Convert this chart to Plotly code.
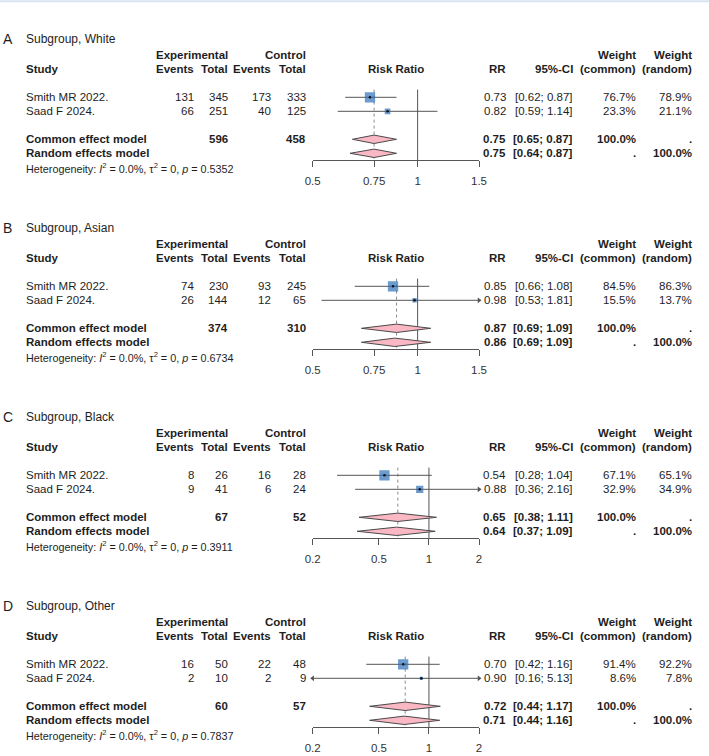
import math
import plotly.graph_objects as go

# ---------------- data ----------------
panel_letters = ["A", "B", "C", "D"]
subgroups = ["Subgroup, White", "Subgroup, Asian", "Subgroup, Black", "Subgroup, Other"]
studies = ["Smith MR 2022.", "Saad F 2024."]

exp_events = [[131, 66], [74, 26], [8, 9], [16, 2]]
exp_total = [[345, 251], [230, 144], [26, 41], [50, 10]]
ctl_events = [[173, 40], [93, 12], [16, 6], [22, 2]]
ctl_total = [[333, 125], [245, 65], [28, 24], [48, 9]]

study_rr = [[0.73, 0.82], [0.85, 0.98], [0.54, 0.88], [0.70, 0.90]]
study_low = [[0.62, 0.59], [0.66, 0.53], [0.28, 0.36], [0.42, 0.16]]
study_high = [[0.87, 1.14], [1.08, 1.81], [1.04, 2.16], [1.16, 5.13]]
weight_common = [[76.7, 23.3], [84.5, 15.5], [67.1, 32.9], [91.4, 8.6]]
weight_random = [[78.9, 21.1], [86.3, 13.7], [65.1, 34.9], [92.2, 7.8]]

exp_sum = [596, 374, 67, 60]
ctl_sum = [458, 310, 52, 57]
common_rr = [0.75, 0.87, 0.65, 0.72]
common_low = [0.65, 0.69, 0.38, 0.44]
common_high = [0.87, 1.09, 1.11, 1.17]
random_rr = [0.75, 0.86, 0.64, 0.71]
random_low = [0.64, 0.69, 0.37, 0.44]
random_high = [0.87, 1.09, 1.09, 1.16]

het_i2 = ["0.0%", "0.0%", "0.0%", "0.0%"]
het_tau2 = ["0", "0", "0", "0"]
het_p = ["0.5352", "0.6734", "0.3911", "0.7837"]

tick_vals = [[0.5, 0.75, 1, 1.5], [0.5, 0.75, 1, 1.5], [0.2, 0.5, 1, 2], [0.2, 0.5, 1, 2]]
tick_text = [["0.5", "0.75", "1", "1.5"], ["0.5", "0.75", "1", "1.5"],
             ["0.2", "0.5", "1", "2"], ["0.2", "0.5", "1", "2"]]

# ---------------- layout constants ----------------
W, H = 709, 756
STEP = 189
ROW_H = 14.0
ROW0 = 97.3
STUDY_ROWS = [0, 1]
COMMON_ROW, RANDOM_ROW = 3, 4
Y_TOP, Y_BOT = -0.6, 4.5
PLOT_L, PLOT_R = 312.7, 479.0
FONT = "Liberation Sans, Arial, Helvetica, sans-serif"
TXT = "#1e1e1e"
LINE = "#555555"
SQUARE = "#2f70b8"
DIAMOND = "#f9b8c4"
MAX_SQ = 10.3

fig = go.Figure()
annotations = []


def txt(xp, yp, s, anchor="left", size=11.5, bold=False, color=TXT):
    if bold:
        s = "<b>" + s + "</b>"
    annotations.append(dict(xref="paper", yref="paper", x=xp / W, y=1 - yp / H,
                            text=s, xanchor=anchor, yanchor="middle", showarrow=False,
                            borderpad=0, font=dict(family=FONT, size=size, color=color)))


COL_EE, COL_ET, COL_CE, COL_CT = 194.8, 228.8, 272.2, 306.5
COL_RR, COL_CI, COL_WC, COL_WR = 507.2, 573.8, 636.5, 693.2

for p in range(4):
    o = STEP * p
    ax = "" if p == 0 else str(p + 1)
    xa, ya = "x" + ax, "y" + ax
    row_px = lambda r: ROW0 + o + ROW_H * r

    # ---- texts ----
    txt(1.5, 39 + o, panel_letters[p], size=14)
    txt(25, 39 + o, subgroups[p], size=12)
    h1, h2 = 55.3 + o, 69.3 + o
    txt(COL_ET, h1, "Experimental", "right", bold=True)
    txt(COL_CT, h1, "Control", "right", bold=True)
    txt(COL_WC, h1, "Weight", "right", bold=True)
    txt(COL_WR, h1, "Weight", "right", bold=True)
    txt(25, h2, "Study", bold=True)
    txt(COL_EE, h2, "Events", "right", bold=True)
    txt(COL_ET, h2, "Total", "right", bold=True)
    txt(COL_CE, h2, "Events", "right", bold=True)
    txt(COL_CT, h2, "Total", "right", bold=True)
    txt((PLOT_L + PLOT_R) / 2, h2, "Risk Ratio", "center", bold=True)
    txt(COL_RR, h2, "RR", "right", bold=True)
    txt(COL_CI, h2, "95%-CI", "right", bold=True)
    txt(COL_WC, h2, "(common)", "right", bold=True)
    txt(COL_WR, h2, "(random)", "right", bold=True)

    for i, r in enumerate(STUDY_ROWS):
        y = row_px(r)
        txt(25, y, studies[i])
        txt(COL_EE, y, str(exp_events[p][i]), "right")
        txt(COL_ET, y, str(exp_total[p][i]), "right")
        txt(COL_CE, y, str(ctl_events[p][i]), "right")
        txt(COL_CT, y, str(ctl_total[p][i]), "right")
        txt(COL_RR, y, f"{study_rr[p][i]:.2f}", "right")
        txt(COL_CI, y, f"[{study_low[p][i]:.2f}; {study_high[p][i]:.2f}]", "right")
        txt(COL_WC, y, f"{weight_common[p][i]:.1f}%", "right")
        txt(COL_WR, y, f"{weight_random[p][i]:.1f}%", "right")

    y = row_px(COMMON_ROW)
    txt(25, y, "Common effect model", bold=True)
    txt(COL_ET, y, str(exp_sum[p]), "right", bold=True)
    txt(COL_CT, y, str(ctl_sum[p]), "right", bold=True)
    txt(COL_RR, y, f"{common_rr[p]:.2f}", "right", bold=True)
    txt(COL_CI, y, f"[{common_low[p]:.2f}; {common_high[p]:.2f}]", "right", bold=True)
    txt(COL_WC, y, "100.0%", "right", bold=True)
    txt(COL_WR, y, ".", "right", bold=True)

    y = row_px(RANDOM_ROW)
    txt(25, y, "Random effects model", bold=True)
    txt(COL_RR, y, f"{random_rr[p]:.2f}", "right", bold=True)
    txt(COL_CI, y, f"[{random_low[p]:.2f}; {random_high[p]:.2f}]", "right", bold=True)
    txt(COL_WC, y, ".", "right", bold=True)
    txt(COL_WR, y, "100.0%", "right", bold=True)

    txt(25, 167.7 + o,
        f"Heterogeneity: <i>I</i><sup>2</sup> = {het_i2[p]}, τ<sup>2</sup> = {het_tau2[p]}, "
        f"<i>p</i> = {het_p[p]}", size=10.8)

    # ---- marks ----
    xmin, xmax = min(tick_vals[p]), max(tick_vals[p])
    fig.add_trace(go.Scatter(x=[common_rr[p], common_rr[p]], y=[Y_TOP + 0.05, Y_BOT],
                             mode="lines", line=dict(color="#8a8a8a", width=1, dash="dot"),
                             xaxis=xa, yaxis=ya, hoverinfo="skip"))
    fig.add_trace(go.Scatter(x=[1, 1], y=[Y_TOP + 0.05, Y_BOT], mode="lines",
                             line=dict(color=LINE, width=1), xaxis=xa, yaxis=ya, hoverinfo="skip"))
    for i, r in enumerate(STUDY_ROWS):
        fig.add_trace(go.Scatter(x=[study_low[p][i], study_high[p][i]], y=[r, r], mode="lines",
                                 line=dict(color=LINE, width=1), xaxis=xa, yaxis=ya,
                                 hoverinfo="skip"))
        if study_high[p][i] > xmax:
            fig.add_trace(go.Scatter(x=[xmax], y=[r], mode="markers", cliponaxis=False,
                                     marker=dict(symbol="triangle-right", size=5, color=LINE),
                                     xaxis=xa, yaxis=ya, hoverinfo="skip"))
        if study_low[p][i] < xmin:
            fig.add_trace(go.Scatter(x=[xmin], y=[r], mode="markers", cliponaxis=False,
                                     marker=dict(symbol="triangle-left", size=5, color=LINE),
                                     xaxis=xa, yaxis=ya, hoverinfo="skip"))
    wmax = max(weight_common[p])
    sizes = [MAX_SQ * math.sqrt(w / wmax) for w in weight_common[p]]
    fig.add_trace(go.Scatter(x=study_rr[p], y=STUDY_ROWS, mode="markers",
                             marker=dict(symbol="square", size=sizes, color=SQUARE,
                                         line=dict(width=0)),
                             xaxis=xa, yaxis=ya, hoverinfo="skip"))
    fig.add_trace(go.Scatter(x=study_rr[p], y=STUDY_ROWS, mode="markers",
                             marker=dict(symbol="circle", size=2.5, color="#111111"),
                             xaxis=xa, yaxis=ya, hoverinfo="skip"))
    dh = 0.3
    for est, lo, hi, r in [(common_rr[p], common_low[p], common_high[p], COMMON_ROW),
                           (random_rr[p], random_low[p], random_high[p], RANDOM_ROW)]:
        fig.add_trace(go.Scatter(x=[lo, est, hi, est, lo], y=[r, r - dh, r, r + dh, r],
                                 mode="lines", fill="toself", fillcolor=DIAMOND,
                                 line=dict(color="#4a4a4a", width=1),
                                 xaxis=xa, yaxis=ya, hoverinfo="skip"))

    top_px = ROW0 + o + ROW_H * Y_TOP
    bot_px = ROW0 + o + ROW_H * Y_BOT
    fig.layout["xaxis" + ax] = dict(
        domain=[PLOT_L / W, PLOT_R / W], anchor=ya, type="log",
        range=[math.log10(xmin), math.log10(xmax)], automargin=False,
        tickvals=tick_vals[p], ticktext=tick_text[p], ticks="outside", ticklen=6,
        tickcolor=LINE, tickwidth=1, showline=True, linecolor=LINE, linewidth=1,
        showgrid=False, zeroline=False, ticklabelstandoff=4,
        tickfont=dict(family=FONT, size=11.5, color="#333333"), fixedrange=True)
    fig.layout["yaxis" + ax] = dict(
        domain=[1 - bot_px / H, 1 - top_px / H], anchor=xa, range=[Y_BOT, Y_TOP],
        visible=False, automargin=False, fixedrange=True)

fig.update_layout(
    template="none",
    width=W, height=H, margin=dict(l=0, r=0, t=0, b=0, pad=0, autoexpand=False),
    paper_bgcolor="white", plot_bgcolor="white", showlegend=False,
    annotations=annotations,
    shapes=[dict(type="line", xref="paper", yref="paper", x0=0, x1=1,
                 y0=1 - 1.2 / H, y1=1 - 1.2 / H, line=dict(color="#d6e4f2", width=2))],
)

fig.write_html("out.html", config={"displayModeBar": False},
               post_script="document.body.style.margin='0';document.body.style.overflow='hidden';")
